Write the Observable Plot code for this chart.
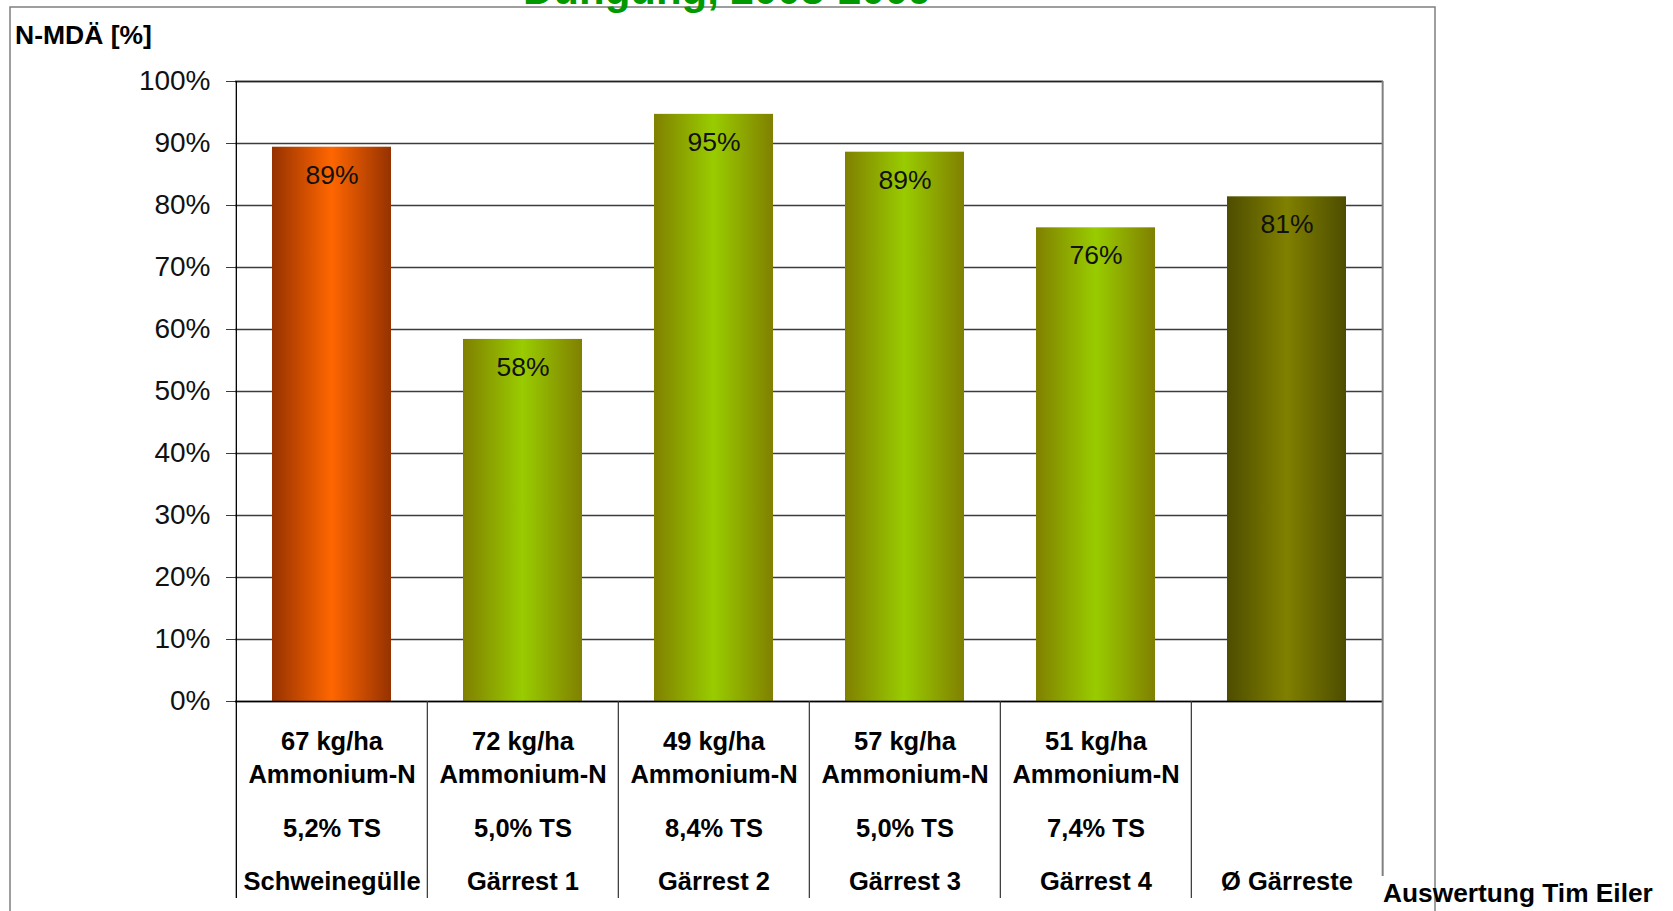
<!DOCTYPE html>
<html>
<head>
<meta charset="utf-8">
<script src="https://cdn.jsdelivr.net/npm/d3@7"></script>
<script src="https://cdn.jsdelivr.net/npm/@observablehq/plot@0.6"></script>
<style>
  html, body { margin: 0; padding: 0; background: #fff; }
  #wrap { position: relative; width: 1673px; height: 911px; overflow: hidden; font-family: "Liberation Sans", Arial, sans-serif; }
  #chart { position: absolute; left: 0; top: 0; }
  #overlay { position: absolute; left: 0; top: 0; pointer-events: none; }
</style>
</head>
<body>
<div id="wrap">
  <svg width="0" height="0" style="position:absolute">
    <defs>
      <linearGradient id="gOrange" x1="0" x2="1" y1="0" y2="0">
        <stop offset="0" stop-color="#963200"/>
        <stop offset="0.5" stop-color="#ff6600"/>
        <stop offset="1" stop-color="#963200"/>
      </linearGradient>
      <linearGradient id="gGreen" x1="0" x2="1" y1="0" y2="0">
        <stop offset="0" stop-color="#808000"/>
        <stop offset="0.5" stop-color="#99cc00"/>
        <stop offset="1" stop-color="#808000"/>
      </linearGradient>
      <linearGradient id="gOlive" x1="0" x2="1" y1="0" y2="0">
        <stop offset="0" stop-color="#4d4d00"/>
        <stop offset="0.5" stop-color="#808000"/>
        <stop offset="1" stop-color="#4d4d00"/>
      </linearGradient>
    </defs>
  </svg>
  <div id="chart"></div>
  <svg id="overlay" width="1673" height="911">
    <rect x="10" y="7" width="1425" height="960" fill="none" stroke="#7f7f7f" stroke-width="1.5"/>
    <text x="523" y="4" font-size="42" font-weight="bold" fill="#009900" font-family="Liberation Sans, Arial, sans-serif">Düngung, 2008-2009</text>
    <text x="15" y="44" font-size="26.5" font-weight="bold" fill="#000" font-family="Liberation Sans, Arial, sans-serif">N-MDÄ [%]</text>
    <text x="1383" y="902" font-size="26.3" font-weight="bold" fill="#000" font-family="Liberation Sans, Arial, sans-serif">Auswertung Tim Eiler</text>
  </svg>
</div>
<script>
// ---- data ----
const categories = ["Schweinegülle", "Gärrest 1", "Gärrest 2", "Gärrest 3", "Gärrest 4", "Ø Gärreste"];
const nmdaeValues = [89.4, 58.4, 94.7, 88.6, 76.4, 81.4];
const valueLabels = ["89%", "58%", "95%", "89%", "76%", "81%"];
const ammoniumKg = ["67 kg/ha", "72 kg/ha", "49 kg/ha", "57 kg/ha", "51 kg/ha", ""];
const ammoniumName = ["Ammonium-N", "Ammonium-N", "Ammonium-N", "Ammonium-N", "Ammonium-N", ""];
const tsLabels = ["5,2% TS", "5,0% TS", "8,4% TS", "5,0% TS", "7,4% TS", ""];
const barGroups = ["orange", "green", "green", "green", "green", "olive"];
const yTicks = [0, 10, 20, 30, 40, 50, 60, 70, 80, 90, 100];

// ---- layout ----
const W = 1673, H = 911, mL = 235, mR = 290, mT = 81, mB = 210;
const plotW = W - mL - mR, plotH = H - mT - mB;
const step = plotW / categories.length;
const below = 197;      // category-table depth under the plot
const belowLast = 175;

const gradientFor = { orange: "url(#gOrange)", green: "url(#gGreen)", olive: "url(#gOlive)" };
const data = categories.map((c, i) => ({ cat: c, value: nmdaeValues[i], label: valueLabels[i], fill: gradientFor[barGroups[i]] }));
const rowFmt = arr => d => arr[categories.indexOf(d)];
const font = '"Liberation Sans", Arial, sans-serif';
const catFont = 25.5;

const chart = Plot.plot({
  width: W, height: H,
  marginLeft: mL, marginRight: mR, marginTop: mT, marginBottom: mB,
  style: { fontFamily: font, background: "transparent", color: "#000", overflow: "visible" },
  x: { domain: categories, paddingInner: 0.378, paddingOuter: 0.189, axis: null },
  y: { domain: [0, 100], axis: null },
  color: { type: "identity" },
  marks: [
    Plot.gridY(yTicks, { stroke: "#3c3c3c", strokeOpacity: 1, strokeWidth: 1.3 }),
    Plot.barY(data, { x: "cat", y: "value", fill: "fill" }),
    Plot.text(data, { x: "cat", y: "value", text: "label", dy: 28, fontSize: 26.5, fill: "#111" }),
    Plot.axisY({ ticks: yTicks, tickFormat: d => d + "%", tickSize: 9, tickPadding: 16, fontSize: 28, label: null, stroke: "#3c3c3c", fill: "#111" }),
    Plot.ruleY([0], { stroke: "#000", strokeWidth: 1.3 }),
    Plot.ruleY([100], { stroke: "#222", strokeWidth: 1.3 }),
    Plot.ruleX([categories[0]], { dx: -step / 2, insetBottom: -below, stroke: "#000", strokeWidth: 1.3 }),
    Plot.ruleX(categories.slice(1), { dx: -step / 2, insetTop: plotH, insetBottom: -below, stroke: "#333", strokeWidth: 1.2 }),
    Plot.ruleX([categories[categories.length - 1]], { dx: step / 2, insetBottom: -belowLast, stroke: "#808080", strokeWidth: 2 }),
    Plot.axisX({ tickFormat: rowFmt(ammoniumKg), tickSize: 0, tickPadding: 30, fontSize: catFont, fontWeight: "bold", label: null, fill: "#000" }),
    Plot.axisX({ tickFormat: rowFmt(ammoniumName), tickSize: 0, tickPadding: 63, fontSize: catFont, fontWeight: "bold", label: null, fill: "#000" }),
    Plot.axisX({ tickFormat: rowFmt(tsLabels), tickSize: 0, tickPadding: 117, fontSize: catFont, fontWeight: "bold", label: null, fill: "#000" }),
    Plot.axisX({ tickFormat: d => d, tickSize: 0, tickPadding: 170, fontSize: catFont, fontWeight: "bold", label: null, fill: "#000" })
  ]
});
document.getElementById("chart").appendChild(chart);
</script>
</body>
</html>
